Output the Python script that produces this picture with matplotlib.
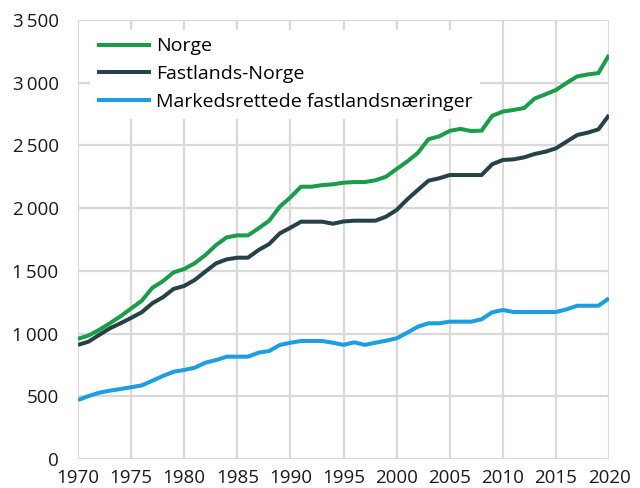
import matplotlib
matplotlib.use("Agg")
import matplotlib.pyplot as plt
from matplotlib.ticker import FuncFormatter

years = list(range(1970, 2021))

norge = [958, 985, 1030, 1082, 1138, 1200, 1262, 1365, 1418, 1488, 1515,
         1562, 1626, 1706, 1767, 1783, 1783, 1839, 1900, 2012, 2086,
         2171, 2171, 2184, 2190, 2203, 2208, 2208, 2222, 2251, 2312,
         2372, 2440, 2550, 2572, 2616, 2632, 2615, 2618, 2736, 2770,
         2783, 2798, 2874, 2907, 2942, 2998, 3050, 3066, 3077, 3221]

fastlands = [910, 936, 990, 1042, 1082, 1125, 1170, 1242, 1290, 1356, 1380,
             1428, 1495, 1560, 1592, 1605, 1605, 1666, 1714, 1799, 1844,
             1892, 1892, 1892, 1876, 1894, 1900, 1900, 1900, 1932, 1985,
             2070, 2145, 2219, 2238, 2264, 2264, 2264, 2264, 2350, 2384,
             2389, 2405, 2432, 2450, 2477, 2530, 2583, 2602, 2628, 2742]

markedsrettede = [470, 502, 529, 545, 558, 572, 587, 624, 662, 696, 710,
                  728, 768, 789, 816, 816, 816, 848, 861, 909, 927,
                  941, 941, 941, 927, 910, 930, 910, 927, 943, 962,
                  1007, 1055, 1082, 1082, 1095, 1095, 1095, 1114, 1170, 1188,
                  1172, 1172, 1172, 1172, 1172, 1193, 1222, 1222, 1222, 1281]

labels = ["Norge", "Fastlands-Norge", "Markedsrettede fastlandsnæringer"]
colors = ["#1a9d49", "#274247", "#1d9de2"]

plt.rcParams["font.family"] = ["Open Sans", "DejaVu Sans"]

fig = plt.figure(figsize=(6.4, 4.88), dpi=100)
ax = fig.add_axes([0.1219, 0.0594, 0.8297, 0.8996])

for vals, lab, col in zip([norge, fastlands, markedsrettede], labels, colors):
    ax.plot(years, vals, color=col, lw=2.9, label=lab, solid_capstyle="butt", zorder=3)

ax.set_xlim(1970, 2020)
ax.set_ylim(0, 3500)
ax.set_xticks(range(1970, 2021, 5))
ax.set_yticks(range(0, 3501, 500))
ax.yaxis.set_major_formatter(FuncFormatter(lambda v, p: f"{int(v):,}".replace(",", "\u2009")))

ax.grid(True, color="#d9d9d9", lw=1.6, zorder=0)
for s in ax.spines.values():
    s.set_visible(False)
ax.tick_params(length=0, labelsize=13.5, colors="#1a1a1a")
ax.tick_params(axis="y", pad=14)
ax.tick_params(axis="x", pad=7)

leg = ax.legend(loc="upper left", bbox_to_anchor=(0.005, 0.978), borderaxespad=0,
                fontsize=14, frameon=True, fancybox=False, handlelength=2.75,
                handletextpad=0.25, labelspacing=0.5, borderpad=0.4)
leg.get_frame().set_facecolor("white")
leg.get_frame().set_edgecolor("none")
leg.get_frame().set_alpha(1)
leg.set_zorder(5)
# legend sits a bit further right than the default padding allows
leg.set_bbox_to_anchor((0.022, 0.978), transform=ax.transAxes)

fig.savefig("out.png", dpi=100)
